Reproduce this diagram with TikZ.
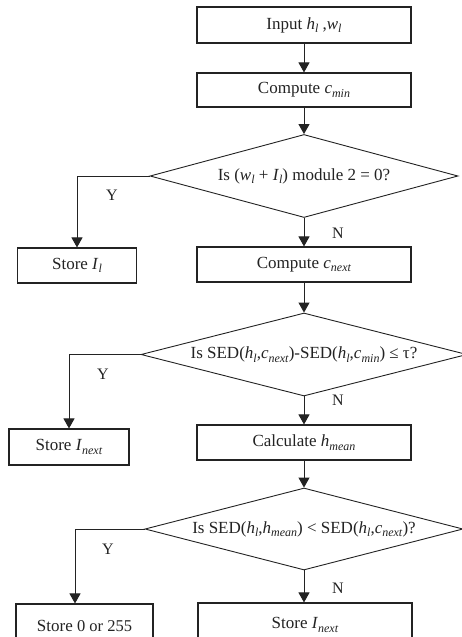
\documentclass[tikz,border=0pt]{standalone}
\usepackage{fontspec}
\setmainfont{Liberation Serif}
\usetikzlibrary{arrows.meta,shapes.geometric}
\newcommand\mainsz{\fontsize{17}{20}\selectfont}
\newcommand\smallsz{\fontsize{16.5}{18}\selectfont}
\newcommand\lsub[1]{\raisebox{-3.5pt}{\fontsize{12}{12}\selectfont\textit{#1}}}
\definecolor{ink}{RGB}{35,35,35}
\begin{document}
\begin{tikzpicture}[x=1pt,y=-1pt,
  box/.style={draw=ink, line width=1.1pt, minimum width=214pt, minimum height=35pt, inner sep=0pt, font=\mainsz, text=ink},
  dec/.style={draw=ink, diamond, line width=0.9pt, aspect=3.8, inner sep=0pt, font=\mainsz, text=ink},
  flow/.style={draw=ink, line width=1pt, -{Triangle[width=11pt,length=10pt]}},
  lbl/.style={font=\fontsize{16}{18}\selectfont, inner sep=0pt, text=ink}]
\useasboundingbox (0,0) rectangle (462,637);
\clip (0,0) rectangle (462,637);
\fill[white] (0,0) rectangle (462,637);

\node[box, minimum height=36pt] (in) at (304,25) {Input \textit{h}\lsub{l} ,\textit{w}\lsub{l}};
\node[box, minimum height=34pt] (cmin) at (304,90) {Compute \textit{c}\lsub{min}};
\node[dec, minimum width=308pt, minimum height=83pt] (d1) at (304,176) {Is (\textit{w}\lsub{l} + \textit{I}\lsub{l}) module 2 = 0?};
\node[box, minimum width=119pt] (sl) at (77,265.5) {Store \textit{I}\lsub{l}};
\node[box] (cnext) at (304,264.5) {Compute \textit{c}\lsub{next}};
\node[dec, minimum width=326pt, minimum height=83pt] (d2) at (304,354.5) {Is SED(\textit{h}\lsub{l},\textit{c}\lsub{next})-SED(\textit{h}\lsub{l},\textit{c}\lsub{min}) ≤ τ?};
\node[box, minimum width=120pt, minimum height=36pt] (snext) at (69,447) {Store \textit{I}\lsub{next}};
\node[box] (hmean) at (304,442.5) {Calculate \textit{h}\lsub{mean}};
\node[dec, minimum width=318pt, minimum height=82pt] (d3) at (304,529) {Is SED(\textit{h}\lsub{l},\textit{h}\lsub{mean}) < SED(\textit{h}\lsub{l},\textit{c}\lsub{next})?};
\node[box, minimum width=137pt, minimum height=44pt] (s0) at (84.5,626) {Store {\smallsz 0 or 255}};
\node[box, minimum height=44pt] (sfin) at (305,625) {Store \textit{I}\lsub{next}};

\draw[flow] (in) -- (cmin);
\draw[flow] (cmin) -- (d1);
\draw[flow] (d1.west) -| (sl.north);
\draw[flow] (d1) -- (cnext);
\draw[flow] (cnext) -- (d2);
\draw[flow] (d2.west) -| (snext.north);
\draw[flow] (d2) -- (hmean);
\draw[flow] (hmean) -- (d3);
\coordinate (k3) at (75,529);
\draw[flow] (d3.west) -- (k3) -- (k3 |- s0.north);
\draw[flow] (d3) -- (d3 |- sfin.north);

\node[lbl] (y1) at (112,195) {Y};
\node[lbl] (n1) at (338,233) {N};
\node[lbl] (y2) at (103,374) {Y};
\node[lbl] (n2) at (338,400) {N};
\node[lbl] (y3) at (108,549) {Y};
\node[lbl] (n3) at (338,588) {N};
\end{tikzpicture}
\end{document}
